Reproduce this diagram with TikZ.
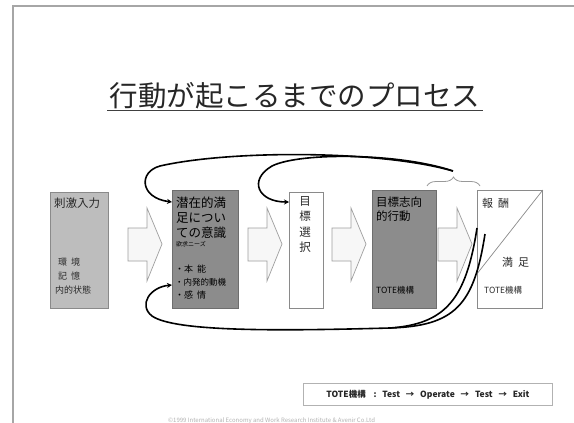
\documentclass[tikz,border=0pt]{standalone}
\usepackage{fontspec}
\setmainfont{Noto Sans CJK JP}
\usetikzlibrary{decorations.pathreplacing,arrows.meta}
\definecolor{lgray}{HTML}{BDBDBD}
\definecolor{dgray}{HTML}{8C8C8C}
\definecolor{edge}{HTML}{8A8A8A}
\definecolor{txt}{HTML}{2A2A2A}
\tikzset{
  boxA/.style={draw=edge, line width=0.8pt, fill=lgray, anchor=north west, inner sep=0pt},
  boxB/.style={draw=edge!80!black, line width=0.8pt, fill=dgray, anchor=north west, inner sep=0pt},
  boxW/.style={draw=edge, line width=0.8pt, fill=white, anchor=north west, inner sep=0pt},
  lbl/.style={anchor=west, inner sep=0pt, text=txt, font=\fontsize{11}{12}\selectfont},
  big/.style={anchor=west, inner sep=0pt, text=black, font=\fontsize{12.5}{13}\selectfont},
  sml/.style={anchor=west, inner sep=0pt, text=txt, font=\fontsize{9}{10}\selectfont},
  blockarrow/.style={draw=gray!75, line width=0.7pt, fill=gray!6},
  flow/.style={line width=1.6pt, black, -{Stealth[length=5pt,width=5pt]}},
  flowplain/.style={line width=1.6pt, black},
}
\begin{document}
\begin{tikzpicture}[x=1pt,y=-1pt]
\useasboundingbox (0,0) rectangle (574,423);
\fill[white] (0,0) rectangle (574,423);
% slide frame
\draw[gray!70, line width=1.6pt] (13,423) -- (13,6) -- (574,6);
% title
\node[anchor=center, inner sep=0pt, text=black!85, font=\fontsize{28.5}{30}\selectfont] (title) at (295,96) {行動が起こるまでのプロセス};
\draw[black!75, line width=1pt] (107,110) -- (483,110);

% boxes
\node[boxA, minimum width=58pt, minimum height=116pt] (b1) at (50,192) {};
\node[boxB, minimum width=66pt, minimum height=118pt] (b2) at (172,190) {};
\node[boxW, minimum width=34pt, minimum height=116pt] (b3) at (289,192) {};
\node[boxB, minimum width=64pt, minimum height=118pt] (b4) at (372,190) {};
\node[boxW, minimum width=65pt, minimum height=118pt] (b5) at (477,190) {};
\draw[edge, line width=0.7pt] ([yshift=35pt]b5.south west) -- (b5.north east);

% block arrows
\foreach \x/\n in {128/a1, 248/a2, 332/a3, 438/a4}{
  \draw[blockarrow] (\x,228) -- (\x+19,228) -- (\x+19,208) -- (\x+34,244) -- (\x+19,281) -- (\x+19,261) -- (\x,261) -- cycle;
}

% box 1 text
\node[lbl, font=\fontsize{11.5}{12}\selectfont] (t1a) at (54,203) {刺激入力};
\node[sml] (t1b) at (58,262) {環\ \ 境};
\node[sml] (t1c) at (58,276) {記\ \ 憶};
\node[sml] (t1d) at (55,290) {内的状態};

% box 2 text
\node[big] (t2a) at (176,203) {潜在的満};
\node[big] (t2b) at (176,218) {足につい};
\node[big] (t2c) at (176,233) {ての意識};
\node[anchor=west, inner sep=0pt, text=black, font=\fontsize{6}{7}\selectfont] (t2d) at (176,244) {欲求ニーズ};
\node[sml, text=black] (t2e) at (175,269) {・本\ \ 能};
\node[sml, text=black, font=\fontsize{8.5}{9}\selectfont] (t2f) at (175,282) {・内発的動機};
\node[sml, text=black] (t2g) at (175,295) {・感\ \ 情};

% box 3 text
\node[anchor=north, inner sep=0pt, text=txt, align=center, font=\fontsize{11.5}{15.5}\selectfont] (t3) at (305,196) {目\\標\\選\\択};

% box 4 text
\node[lbl, font=\fontsize{11.5}{12}\selectfont, text=black] (t4a) at (376,202) {目標志向};
\node[lbl, font=\fontsize{11.5}{12}\selectfont, text=black] (t4b) at (376,216) {的行動};
\node[sml, text=black, font=\fontsize{8.5}{9}\selectfont] (t4c) at (376,290) {TOTE機構};

% box 5 text
\node[lbl] (t5a) at (482,203) {報\ \ 酬};
\node[lbl] (t5b) at (502,262) {満\ \ 足};
\node[sml, font=\fontsize{8.5}{9}\selectfont] (t5c) at (484,290) {TOTE機構};

% brace
\draw[gray!80, line width=0.8pt, decorate, decoration={brace, amplitude=9pt}] (427,186) -- (480,186);
\coordinate (bt) at (453,171);

% top curves
\draw[flow] (bt) .. controls (380,150) and (230,150) .. (160,166)
  .. controls (138,172) and (140,198) .. ([yshift=-12pt]b2.north west);
\draw[flow] (bt) .. controls (400,153) and (300,152) .. (272,166)
  .. controls (248,180) and (258,202) .. ([yshift=-10pt]b3.north west);

% bottom curves
\coordinate (r1) at (485,234);
\coordinate (r2) at (477,228);
\coordinate (m) at (390,328);
\draw[flow] (r1) .. controls (474,305) and (455,326) .. (m)
  .. controls (280,331) and (175,332) .. (152,316)
  .. controls (138,305) and (150,287) .. ([yshift=-95pt]b2.north west);
\draw[flowplain] (r2) .. controls (466,300) and (445,324) .. (m);

% TOTE legend
\node[draw=gray!60, line width=0.8pt, fill=white, minimum width=249pt, minimum height=22pt, anchor=north west, inner sep=0pt] (leg) at (303,383) {};
\node[anchor=center, inner sep=0pt, text=black!85, font=\bfseries\fontsize{8.5}{9}\selectfont] (legt) at (leg.center) {TOTE機構\ \ \ \ :\ \ \ Test\ \ \ →\ \ \ Operate\ \ \ →\ \ \ Test\ \ \ →\ \ \ Exit};

% footer
\node[anchor=west, inner sep=0pt, text=gray!60, font=\fontsize{6}{7}\selectfont] (foot) at (168,421) {©1999 International Economy and Work Research Institute \& Avenir Co.Ltd};
\end{tikzpicture}
\end{document}
